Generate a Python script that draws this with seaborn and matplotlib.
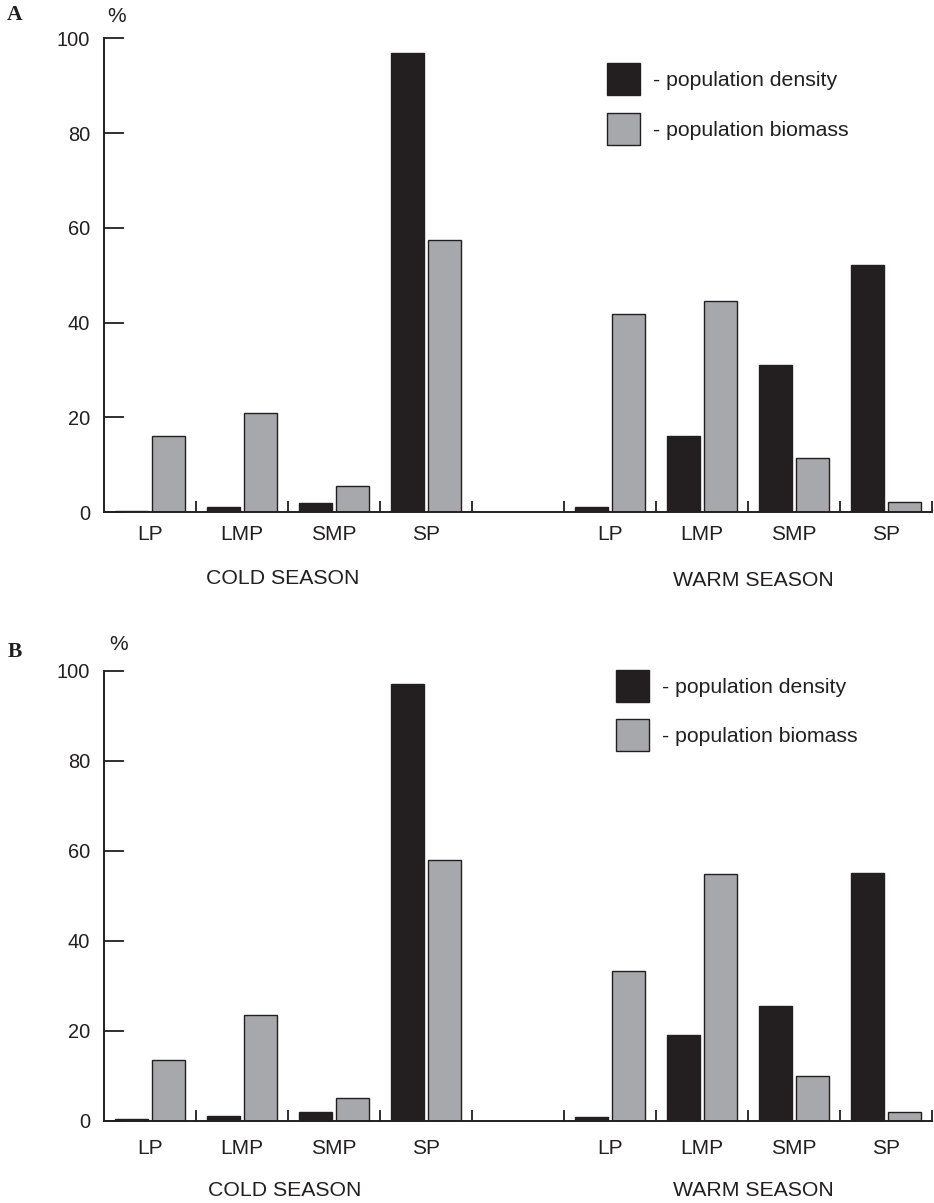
import numpy as np
import pandas as pd
import matplotlib
matplotlib.use("Agg")
import matplotlib.pyplot as plt
from matplotlib.patches import Patch
import seaborn as sns

# ---------------- data ----------------
slots = ["cold LP", "cold LMP", "cold SMP", "cold SP", "gap",
         "warm LP", "warm LMP", "warm SMP", "warm SP"]
data_slots = ["cold LP", "cold LMP", "cold SMP", "cold SP",
              "warm LP", "warm LMP", "warm SMP", "warm SP"]
tick_labels = ["LP", "LMP", "SMP", "SP", "LP", "LMP", "SMP", "SP"]
seasons = ["COLD SEASON", "WARM SEASON"]
measures = ["- population density", "- population biomass"]

a_density = [0.3, 1.0, 2.0, 97.0, 1.0, 16.0, 31.0, 52.1]
a_biomass = [16.0, 21.0, 5.4, 57.4, 41.7, 44.5, 11.5, 2.2]
b_density = [0.3, 1.1, 1.9, 97.1, 0.8, 19.0, 25.4, 55.0]
b_biomass = [13.4, 23.6, 5.0, 57.9, 33.2, 54.8, 9.9, 2.0]

yticks = [0, 20, 40, 60, 80, 100]

INK = "#231f20"
GRAY = "#a7a8ab"

sns.set_style("ticks")
plt.rcParams["font.family"] = ["Liberation Sans", "DejaVu Sans"]
plt.rcParams["text.color"] = INK
plt.rcParams["axes.edgecolor"] = INK
plt.rcParams["xtick.color"] = INK
plt.rcParams["ytick.color"] = INK

W, H = 934, 1203
fig = plt.figure(figsize=(W / 100, H / 100), dpi=100)


def px_rect(left, top, right, bottom):
    return [left / W, 1 - bottom / H, (right - left) / W, (bottom - top) / H]


panels = [
    dict(dens=a_density, bio=a_biomass, rect=px_rect(104, 38.3, 932, 512),
         letter="A", letter_xy=(15, 15), pct_xy=(117, 17),
         leg_xy=(607, 63.3), xpad=9.7, lspace=0.85,
         season_xy=[(283, 579), (753, 580)]),
    dict(dens=b_density, bio=b_biomass, rect=px_rect(104, 670.7, 932, 1120.7),
         letter="B", letter_xy=(15, 652), pct_xy=(119, 645),
         leg_xy=(616, 670), xpad=12.9, lspace=0.82,
         season_xy=[(285, 1190), (753, 1190)]),
]

for p in panels:
    df = pd.DataFrame({
        "slot": data_slots * 2,
        "measure": [measures[0]] * len(data_slots) + [measures[1]] * len(data_slots),
        "value": list(p["dens"]) + list(p["bio"]),
    })
    ax = fig.add_axes(p["rect"])
    sns.barplot(data=df, x="slot", y="value", hue="measure",
                order=slots, hue_order=measures,
                palette=[INK, GRAY], width=0.8, gap=0.1,
                edgecolor=INK, linewidth=1.0, saturation=1,
                errorbar=None, legend=False, ax=ax)
    ax.set_xlim(-0.5, 8.5)
    ax.set_ylim(0, 100)
    ax.set_xlabel("")
    ax.set_ylabel("")
    sns.despine(ax=ax)
    for s in ("left", "bottom"):
        ax.spines[s].set_linewidth(1.4)
        ax.spines[s].set_color(INK)

    ax.set_yticks(yticks)
    ax.set_yticklabels([str(v) for v in yticks], fontsize=14.4)
    ax.tick_params(axis="y", direction="in", length=14.5, width=1.3, pad=10)

    ax.set_xticks([0, 1, 2, 3, 5, 6, 7, 8])
    ax.set_xticklabels(tick_labels, fontsize=15)
    ax.tick_params(axis="x", which="major", length=0, pad=p["xpad"])
    ax.set_xticks(np.arange(0.5, 9, 1.0), minor=True)
    ax.tick_params(axis="x", which="minor", direction="in", length=8, width=1.3)

    handles = [Patch(facecolor=INK, edgecolor=INK, linewidth=1.0),
               Patch(facecolor=GRAY, edgecolor=INK, linewidth=1.0)]
    lx, ly = p["leg_xy"]
    ax.legend(handles, measures, loc="upper left",
              bbox_to_anchor=(lx / W, 1 - ly / H), bbox_transform=fig.transFigure,
              frameon=False, fontsize=15.3, borderpad=0, borderaxespad=0,
              handlelength=1.55, handleheight=1.94, handletextpad=0.6,
              labelspacing=p["lspace"])

    for (sx, sy), name in zip(p["season_xy"], seasons):
        fig.text(sx / W, 1 - sy / H, name, ha="center", va="center", fontsize=15.3)

    fig.text(p["letter_xy"][0] / W, 1 - p["letter_xy"][1] / H, p["letter"],
             ha="center", va="center", fontsize=15.5, fontweight="bold",
             family=["Liberation Serif", "DejaVu Serif"])
    fig.text(p["pct_xy"][0] / W, 1 - p["pct_xy"][1] / H, "%",
             ha="center", va="center", fontsize=15)

fig.savefig("out.png", dpi=100)
